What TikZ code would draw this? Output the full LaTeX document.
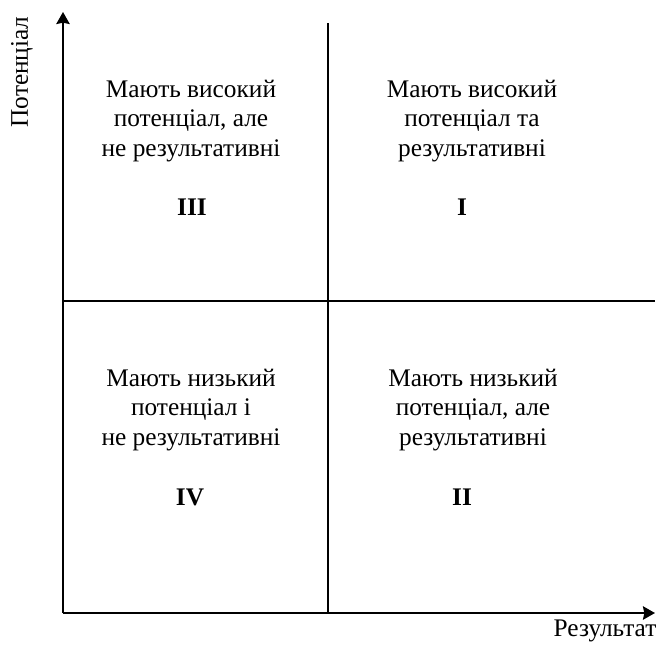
\documentclass[tikz,border=0pt]{standalone}
\usepackage{fontspec}
\setmainfont{Liberation Serif}
\usetikzlibrary{positioning,arrows.meta}
\newcommand*{\rom}[1]{\textbf{#1}}

\begin{document}
\begin{tikzpicture}[x=0.75pt,y=-0.75pt,
  axis/.style={line width=1.7pt,-{Stealth[length=9pt,width=10pt,inset=1pt]}},
  divide/.style={line width=1pt},
  txt/.style={align=center,font=\fontsize{19}{22.3}\selectfont,inner sep=0pt},
  num/.style={font=\fontsize{19}{22}\selectfont\bfseries,inner sep=0pt}]
\useasboundingbox (0,0) rectangle (657,644);
% Corner of the axes and the ends
\coordinate (o) at (63,613);
\coordinate (ytop) at (63,12);
\coordinate (xend) at (655,613);
% Ends of the dividing lines
\coordinate (vtop) at (328,23);
\coordinate (vbot) at (328,613);
\coordinate (hleft) at (63,301);
\coordinate (hright) at (655,301);
% Draw axes
\draw[axis] (o) -- (ytop);
\draw[axis] (o) -- (xend);
% Draw quadrant borders
\draw[divide] (vtop) -- (vbot);
\draw[divide] (hleft) -- (hright);
% Axis labels
\node[txt,rotate=90] (ylab) at (22,72) {Потенціал};
\node[txt] (xlab) at (605,631) {Результат};
% Quadrant texts
\node[txt] (q3) at (191,121) {Мають високий\\потенціал, але\\не результативні};
\node[txt] (q1) at (472,121) {Мають високий\\потенціал та\\результативні};
\node[txt] (q4) at (191,410) {Мають низький\\потенціал і\\не результативні};
\node[txt] (q2) at (473,410) {Мають низький\\потенціал, але\\результативні};
% Roman numbers
\node[num] (n3) at (192,207) {\rom{III}};
\node[num] (n1) at (462,207) {\rom{I}};
\node[num] (n4) at (190,497) {\rom{IV}};
\node[num] (n2) at (462,497) {\rom{II}};
\end{tikzpicture}
\end{document}
